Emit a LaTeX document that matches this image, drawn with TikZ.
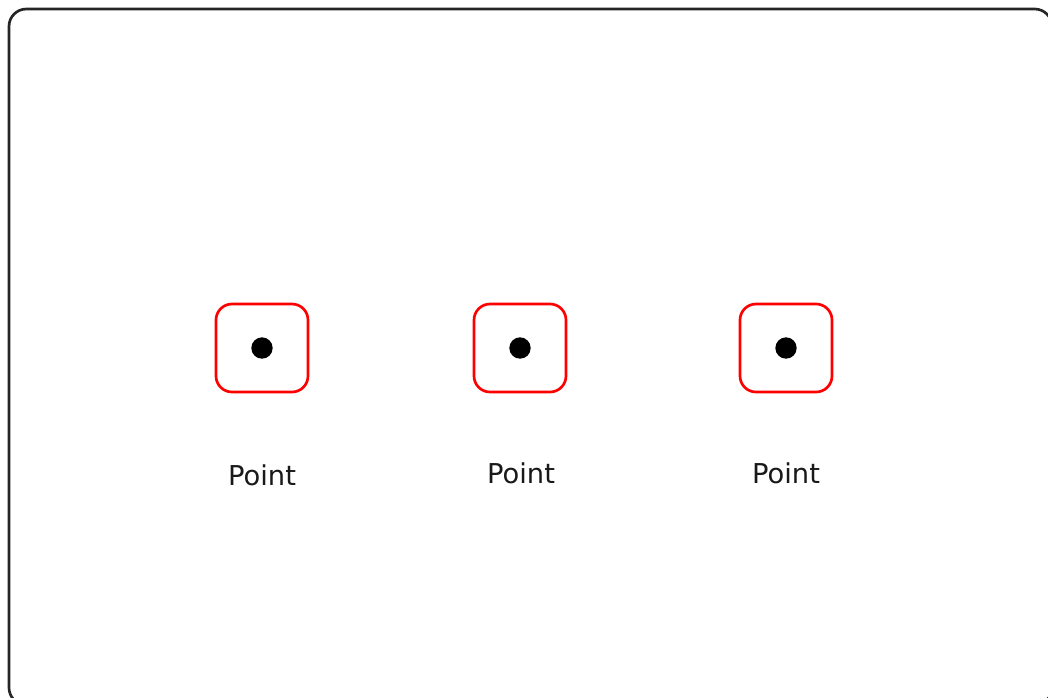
\documentclass[tikz,border=0pt]{standalone}
\usepackage{fontspec}
\setmainfont{DejaVu Sans}
\begin{document}
\begin{tikzpicture}[x=0.75pt,y=-0.75pt,
  ptbox/.style={draw=red,line width=2pt,rounded corners=12pt,minimum width=69pt,minimum height=66pt,inner sep=0pt},
  ptdot/.style={circle,fill=black,minimum size=16pt,inner sep=0pt},
  ptlabel/.style={font=\fontsize{20.5}{24}\selectfont,text=black!90,inner sep=0pt}]
\useasboundingbox (0,0) rectangle (1048,697);
\clip (0,0) rectangle (1048,697);
\fill[white] (0,0) rectangle (1048,697);
\draw[line width=2pt,black!85,rounded corners=13pt] (9,9) rectangle (1052,705);
\node[ptbox] (b1) at (262,348) {};
\node[ptbox] (b2) at (520,348) {};
\node[ptbox] (b3) at (786,348) {};
\node[ptdot] (d1) at (b1.center) {};
\node[ptdot] (d2) at (b2.center) {};
\node[ptdot] (d3) at (b3.center) {};
\node[ptlabel] (l1) at (262,475) {Point};
\node[ptlabel] (l2) at (521,473) {Point};
\node[ptlabel] (l3) at (786,473) {Point};
\end{tikzpicture}
\end{document}
